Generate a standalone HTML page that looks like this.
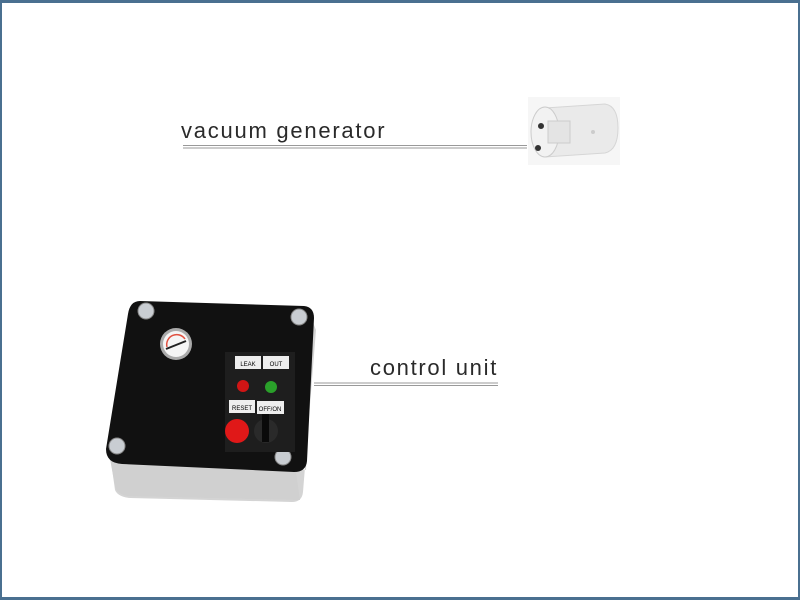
<!DOCTYPE html>
<html><head><style>
html,body{margin:0;padding:0;background:#fff}
.f{position:absolute;left:0;top:0;width:800px;height:600px;box-sizing:border-box;border:2px solid #4a7090;border-top-width:3px;border-bottom-width:3px}
</style></head><body>
<div class="f"></div>
<svg width="800" height="600" style="position:absolute;left:0;top:0" font-family="Liberation Sans, sans-serif">
<text x="181" y="138" font-size="22" fill="#2a2a2a" letter-spacing="1.75">vacuum generator</text>
<line x1="183" y1="145.5" x2="527" y2="145.5" stroke="#999" stroke-width="1"/>
<line x1="183" y1="148" x2="527" y2="148" stroke="#999" stroke-width="1"/>
<rect x="528" y="97" width="92" height="68" fill="#f6f6f6"/>
<path d="M545,108 L605,104 Q618,106 618,128 Q618,150 605,153 L545,157 Z" fill="#eaeaea" stroke="#d6d6d6"/>
<ellipse cx="545" cy="132" rx="14" ry="25" fill="#f2f2f2" stroke="#ccc"/>
<rect x="548" y="121" width="22" height="22" fill="#e4e4e4" stroke="#ccc"/>
<circle cx="541" cy="126" r="3" fill="#333"/><circle cx="538" cy="148" r="3" fill="#333"/>
<circle cx="593" cy="132" r="2" fill="#ccc"/>
<path d="M108,440 L115,490 Q118,497 130,498 L292,502 Q302,502 303,492 L316,330 L312,320 L306,470 Z" fill="#d4d4d4"/>
<path d="M108,448 Q110,462 122,465 L296,472 L300,500 L128,496 Q116,494 115,486 Z" fill="#d0d0d0"/>
<path d="M140,301 L304,306 Q314,307 314,318 L307,461 Q306,472 294,472 L122,464 Q106,463 106,449 L128,314 Q130,301 140,301 Z" fill="#111"/>
<g fill="#c9cdd2" stroke="#888"><circle cx="146" cy="311" r="8"/><circle cx="299" cy="317" r="8"/><circle cx="117" cy="446" r="8"/><circle cx="283" cy="457" r="8"/></g>
<circle cx="176" cy="344" r="16" fill="#aaa"/><circle cx="176" cy="344" r="13" fill="#f5f5f5"/>
<path d="M167,347 A10,10 0 0 1 185,339" fill="none" stroke="#e05040" stroke-width="1.5"/>
<line x1="166" y1="349" x2="186" y2="341" stroke="#222" stroke-width="2"/>
<rect x="225" y="352" width="70" height="100" fill="#1e1e1e"/>
<rect x="235" y="356" width="26" height="13" fill="#eee"/><text x="248" y="366" font-size="6" text-anchor="middle">LEAK</text>
<rect x="263" y="356" width="26" height="13" fill="#eee"/><text x="276" y="366" font-size="6" text-anchor="middle">OUT</text>
<circle cx="243" cy="386" r="6" fill="#d01515"/><circle cx="271" cy="387" r="6" fill="#2aa02a"/>
<rect x="229" y="400" width="26" height="13" fill="#eee"/><text x="242" y="410" font-size="6" text-anchor="middle">RESET</text>
<rect x="257" y="401" width="27" height="13" fill="#eee"/><text x="270" y="411" font-size="6" text-anchor="middle">OFF/ON</text>
<circle cx="237" cy="431" r="12" fill="#e01818"/>
<circle cx="266" cy="431" r="12" fill="#2a2a2a"/><rect x="262" y="414" width="7" height="28" fill="#0a0a0a"/>
<text x="370" y="375" font-size="22" fill="#2a2a2a" letter-spacing="1.7">control unit</text>
<line x1="314" y1="383" x2="498" y2="383" stroke="#999" stroke-width="1"/>
<line x1="314" y1="385.5" x2="498" y2="385.5" stroke="#999" stroke-width="1"/>
</svg>
</body></html>
